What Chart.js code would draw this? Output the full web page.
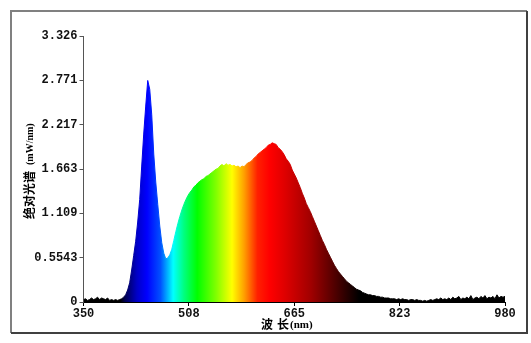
<!DOCTYPE html>
<html>
<head>
<meta charset="utf-8">
<script src="https://cdn.jsdelivr.net/npm/chart.js@4/dist/chart.umd.min.js"></script>
<style>
  html, body { margin: 0; padding: 0; background: #fff; }
  #wrap { width: 531px; height: 343px; position: relative; }
</style>
</head>
<body>
<div id="wrap"><canvas id="spec"></canvas></div>
<script>
// spectrum data, 3 nm sampling
const wavelengths = [
  350,353,356,359,362,365,368,371,374,377,380,383,386,389,392,395,398,401,404,407,
  410,413,416,419,422,425,428,431,434,437,440,443,446,449,452,455,458,461,464,467,
  470,473,476,479,482,485,488,491,494,497,500,503,506,509,512,515,518,521,524,527,
  530,533,536,539,542,545,548,551,554,557,560,563,566,569,572,575,578,581,584,587,
  590,593,596,599,602,605,608,611,614,617,620,623,626,629,632,635,638,641,644,647,
  650,653,656,659,662,665,668,671,674,677,680,683,686,689,692,695,698,701,704,707,
  710,713,716,719,722,725,728,731,734,737,740,743,746,749,752,755,758,761,764,767,
  770,773,776,779,782,785,788,791,794,797,800,803,806,809,812,815,818,821,824,827,
  830,833,836,839,842,845,848,851,854,857,860,863,866,869,872,875,878,881,884,887,
  890,893,896,899,902,905,908,911,914,917,920,923,926,929,932,935,938,941,944,947,
  950,953,956,959,962,965,968,971,974,977,980
];
const power = [
  0.03,0.04,0.02,0.03,0.05,0.03,0.04,0.06,0.03,0.05,0.04,0.03,0.05,0.02,0.03,0.02,0.03,0.02,0.03,0.04,
  0.06,0.09,0.15,0.24,0.40,0.58,0.76,1.00,1.28,1.70,2.10,2.45,2.77,2.66,2.34,1.85,1.50,1.22,0.95,0.74,
  0.61,0.54,0.55,0.59,0.66,0.77,0.88,0.98,1.07,1.15,1.22,1.28,1.33,1.37,1.40,1.44,1.46,1.49,1.51,1.53,
  1.54,1.57,1.58,1.60,1.62,1.64,1.66,1.67,1.70,1.72,1.70,1.73,1.71,1.72,1.70,1.71,1.69,1.70,1.68,1.70,
  1.69,1.72,1.74,1.75,1.77,1.80,1.82,1.85,1.87,1.89,1.91,1.93,1.96,1.97,1.99,1.98,1.97,1.93,1.91,1.88,
  1.84,1.79,1.76,1.72,1.65,1.60,1.55,1.49,1.43,1.36,1.30,1.23,1.18,1.13,1.07,1.01,0.95,0.89,0.83,0.77,
  0.72,0.66,0.61,0.56,0.51,0.46,0.42,0.38,0.35,0.32,0.29,0.26,0.24,0.22,0.20,0.18,0.16,0.15,0.14,0.12,
  0.11,0.10,0.09,0.09,0.08,0.08,0.07,0.07,0.06,0.06,0.05,0.05,0.05,0.04,0.04,0.04,0.03,0.04,0.03,0.04,
  0.03,0.03,0.02,0.03,0.03,0.02,0.03,0.02,0.02,0.01,0.02,0.01,0.02,0.03,0.02,0.03,0.04,0.03,0.05,0.03,
  0.04,0.03,0.05,0.03,0.06,0.04,0.05,0.07,0.03,0.05,0.04,0.06,0.04,0.08,0.03,0.05,0.06,0.04,0.07,0.05,
  0.08,0.04,0.06,0.05,0.07,0.04,0.09,0.05,0.07,0.06,0.07
];

// axis ticks
const xTicks = [350, 507.5, 665, 822.5, 980];
const xTickLabels = ['350', '508', '665', '823', '980'];
const yTicks = [0, 0.5543, 1.109, 1.663, 2.217, 2.771, 3.326];
const yTickLabels = ['0', '0.5543', '1.109', '1.663', '2.217', '2.771', '3.326'];

// colour of the fill along the wavelength
const stopWl =    [350,      405,      412,      430,      445,      465,      484,      500,      520,      548,      572,      590,      610,      628,      650,      690,      740,      762,      980];
const stopColor = ['#000000','#000000','#000050','#0000c8','#0000ff','#0050ff','#00ffff','#00ff80','#00ff00','#80ff00','#ffff00','#ffa000','#ff2000','#ff0000','#e00000','#a00000','#300000','#000000','#000000'];

function spectrumFill(context) {
  const chart = context.chart;
  const area = chart.chartArea;
  if (!area) return '#000';
  const xs = chart.scales.x;
  const g = chart.ctx.createLinearGradient(area.left, 0, area.right, 0);
  for (let i = 0; i < stopWl.length; i++) {
    const p = (xs.getPixelForValue(stopWl[i]) - area.left) / (area.right - area.left);
    g.addColorStop(Math.min(1, Math.max(0, p)), stopColor[i]);
  }
  return g;
}

// frame and axis titles (mixed fonts)
const decor = {
  id: 'decor',
  afterDraw(chart) {
    const c = chart.ctx;
    c.save();
    // frame
    c.lineWidth = 2;
    c.strokeStyle = '#808080';
    c.beginPath();
    c.moveTo(11, 333); c.lineTo(11, 11); c.lineTo(527, 11);
    c.stroke();
    c.strokeStyle = '#404040';
    c.beginPath();
    c.moveTo(527, 11); c.lineTo(527, 333); c.lineTo(11, 333);
    c.stroke();

    c.fillStyle = '#000';
    c.textBaseline = 'middle';
    // x title
    c.font = 'bold 12px "Noto Sans CJK SC"';
    c.textAlign = 'left';
    c.fillText('波', 261, 324);
    c.fillText('长', 277, 324);
    c.font = 'bold 11px "Liberation Serif"';
    c.fillText('(nm)', 290, 325);

    // y title, rotated
    c.translate(29, 168);
    c.rotate(-Math.PI / 2);
    c.font = 'bold 12px "Noto Sans CJK SC"';
    c.textAlign = 'right';
    c.fillText('绝对光谱', -3, 0);
    c.font = 'bold 10px "Liberation Serif"';
    c.textAlign = 'left';
    c.fillText('(mW/nm)', 3, 1);
    c.restore();
  }
};

new Chart(document.getElementById('spec'), {
  type: 'line',
  data: {
    labels: wavelengths,
    datasets: [{
      data: wavelengths.map((w, i) => ({ x: w, y: power[i] })),
      fill: 'origin',
      backgroundColor: spectrumFill,
      borderColor: spectrumFill,
      borderWidth: 1,
      pointRadius: 0,
      tension: 0
    }]
  },
  options: {
    responsive: true,
    maintainAspectRatio: false,
    animation: false,
    layout: { padding: { left: 0, top: 36, right: 26, bottom: 0 } },
    plugins: { legend: { display: false }, tooltip: { enabled: false } },
    scales: {
      x: {
        type: 'linear',
        min: 350, max: 980,
        afterFit: s => { s.height = 41; },
        afterBuildTicks: s => { s.ticks = xTicks.map(v => ({ value: v })); },
        ticks: {
          autoSkip: false, maxRotation: 0, padding: 1,
          color: '#111',
          font: { family: 'Liberation Mono', size: 12, weight: 'bold' },
          callback: (v, i) => xTickLabels[i]
        },
        grid: { drawOnChartArea: false, drawTicks: true, tickLength: 4, color: '#000' },
        border: { display: true, color: '#000', width: 1 }
      },
      y: {
        min: 0, max: 3.326,
        afterFit: s => { s.width = 83.5; },
        afterBuildTicks: s => { s.ticks = yTicks.map(v => ({ value: v })); },
        ticks: {
          autoSkip: false, padding: 2,
          color: '#111',
          font: { family: 'Liberation Mono', size: 12, weight: 'bold' },
          callback: (v, i) => yTickLabels[i]
        },
        grid: { drawOnChartArea: false, drawTicks: true, tickLength: 4, color: '#555' },
        border: { display: true, color: '#555', width: 1 }
      }
    }
  },
  plugins: [decor]
});
</script>
</body>
</html>
